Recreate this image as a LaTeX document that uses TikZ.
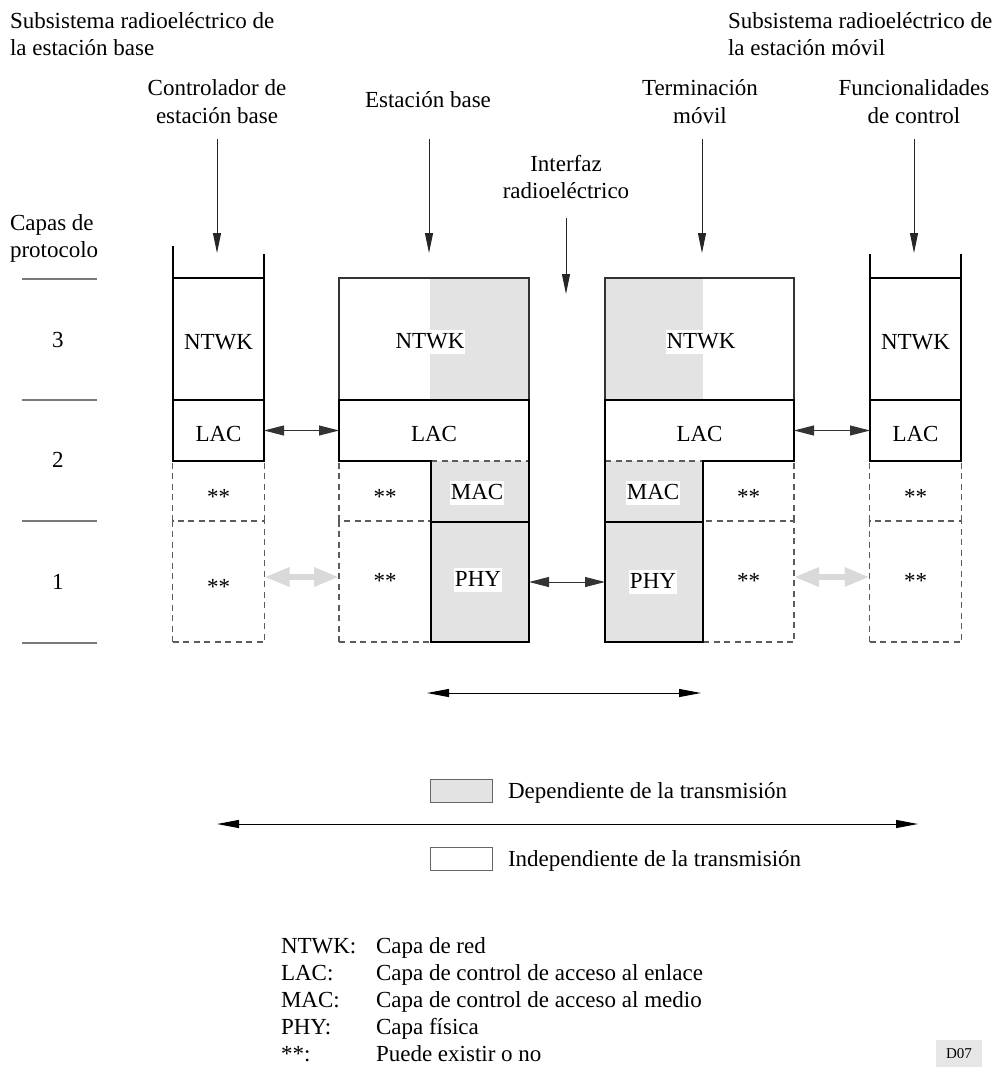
\documentclass[tikz,border=0pt]{standalone}
\usepackage{fontspec}
\setmainfont{Liberation Serif}
\usetikzlibrary{arrows.meta}
\definecolor{depgray}{HTML}{E3E3E3}
\definecolor{dashgray}{HTML}{5C5C5C}
\definecolor{rulegray}{HTML}{7A7A7A}
\definecolor{linkgray}{HTML}{D9D9D9}
\definecolor{tagbg}{HTML}{E6E6E6}

\begin{document}
\begin{tikzpicture}[x=1pt,y=-1pt,
  every node/.style={font=\fontsize{23}{27.5}\selectfont, inner sep=0pt, outer sep=0pt},
  cell/.style 2 args={minimum width=#1, minimum height=#2, text height=21pt, text depth=0pt},
  star/.style={text height=26pt, text depth=0pt},
  lowstar/.style={text height=14pt, text depth=0pt},
  entry/.style={anchor=west, text height=16pt, text depth=5pt},
  layer/.style={draw=black, line width=2pt, line cap=rect, line join=miter},
  upper/.style={draw=black!80, line width=1.2pt},
  lower/.style={draw=black, line width=1.3pt},
  maybe/.style={draw=dashgray, line width=1.2pt, dash pattern=on 6pt off 4.5pt},
  dep/.style={fill=depgray},
  tag/.style={fill=white, inner xsep=1pt, text height=18pt, text depth=6pt},
  feed/.style={draw=black!85, line width=1pt, -{Triangle[length=20pt,width=8pt]}},
  link/.style={draw=black!80, line width=1pt, {Triangle[length=20pt,width=10pt]}-{Triangle[length=20pt,width=10pt]}},
  glink/.style={draw=linkgray, line width=6pt, {Triangle[length=25pt,width=18pt]}-{Triangle[length=25pt,width=18pt]}},
  span/.style={draw=black, line width=1pt, {Triangle[length=22pt,width=8pt]}-{Triangle[length=22pt,width=8pt]}},
  key/.style={minimum width=62pt, minimum height=23pt, draw=black!60, line width=1pt},
  sep/.style={draw=rulegray, line width=1.5pt}
]
\useasboundingbox (0,0) rectangle (994,1072);

% ---------- headings ----------
\node[anchor=west, align=left] (subB) at (10,34) {Subsistema radioeléctrico de\\la estación base};
\node[anchor=west, align=left] (subM) at (728,34) {Subsistema radioeléctrico de\\la estación móvil};
\node[align=center] (hBSC) at (217,101.5) {Controlador de\\estación base};
\node (hBS) at (428,100) {Estación base};
\node[align=center] (hMT) at (700,101.5) {Terminación\\móvil};
\node[align=center] (hCF) at (914,101.5) {Funcionalidades\\de control};
\node[align=center] (hIF) at (566,177) {Interfaz\\radioeléctrico};

\coordinate (f1a) at (217,139);  \coordinate (f1b) at (217,253);
\coordinate (f2a) at (429,139);  \coordinate (f2b) at (429,253);
\coordinate (f3a) at (702,139);  \coordinate (f3b) at (702,253);
\coordinate (f4a) at (914,139);  \coordinate (f4b) at (914,253);
\coordinate (fia) at (566,218);  \coordinate (fib) at (566,294);
\draw[feed] (f1a) -- (f1b);
\draw[feed] (f2a) -- (f2b);
\draw[feed] (f3a) -- (f3b);
\draw[feed] (f4a) -- (f4b);
\draw[feed] (fia) -- (fib);

% ---------- layer scale ----------
\node[anchor=west, align=left] (capas) at (10,238.5) {Capas de\\protocolo};
\draw[sep] (22,279) -- (97,279);
\draw[sep] (22,400) -- (97,400);
\draw[sep] (22,521) -- (97,521);
\draw[sep] (22,643) -- (97,643);
\node (k3) at (58,340) {3};
\node (k2) at (58,460) {2};
\node (k1) at (58,582) {1};

% ---------- base station controller ----------
\node[cell={92pt}{121pt}, maybe, star] (p1) at (218.5,581.5) {**};
\node[cell={92pt}{60pt}, star] (m1) at (218.5,491) {**};
\draw[maybe] (m1.south west) -- (m1.north west) (m1.south east) -- (m1.north east);
\node[cell={91pt}{122pt}, layer] (n1) at (218.5,339) {NTWK};
\node[cell={91pt}{61pt}, layer] (l1) at (218.5,430.5) {LAC};
\draw[layer] (173,247) -- (n1.north west);
\draw[layer] (264,255) -- (n1.north east);

% ---------- base station ----------
\fill[depgray] (430,278) rectangle (529,400);
\node[cell={190pt}{122pt}, upper] (n2) at (434,339) {};
\node[cell={92pt}{121pt}, maybe, lowstar] (b2) at (385,581.5) {**};
\node[cell={92pt}{60pt}, star] (a2) at (385,491) {**};
\draw[maybe] (a2.south west) -- (a2.north west);
\node[cell={98pt}{61pt}, dep] (m2) at (480,491.5) {};
\node[cell={98pt}{120pt}, dep, lower] (p2) at (480,582) {};
\node[cell={190pt}{61pt}] (l2) at (434,430.5) {LAC};
\draw[maybe] (m2.north west) -- (m2.north east);
\draw[layer] (m2.north west) -- (l2.south west) -- (l2.north west) -- (l2.north east) -- (m2.south east) -- (m2.south west) -- cycle;
\node[tag] (t2n) at (430,342) {NTWK};
\node[tag] (t2m) at (477,493) {MAC};
\node[tag] (t2p) at (478,580) {PHY};

% ---------- mobile termination ----------
\fill[depgray] (605,278) rectangle (703,400);
\node[cell={189pt}{122pt}, upper] (n3) at (699.5,339) {};
\node[cell={91pt}{121pt}, maybe, lowstar] (b3) at (748.5,581.5) {**};
\node[cell={91pt}{60pt}, star] (a3) at (748.5,491) {**};
\draw[maybe] (a3.south east) -- (a3.north east);
\node[cell={98pt}{61pt}, dep] (m3) at (654,491.5) {};
\node[cell={98pt}{120pt}, dep, lower] (p3) at (654,582) {};
\node[cell={189pt}{61pt}] (l3) at (699.5,430.5) {LAC};
\draw[maybe] (m3.north west) -- (m3.north east);
\draw[layer] (m3.north east) -- (l3.south east) -- (l3.north east) -- (l3.north west) -- (m3.south west) -- (m3.south east) -- cycle;
\node[tag] (t3n) at (701,342) {NTWK};
\node[tag] (t3m) at (653,493) {MAC};
\node[tag] (t3p) at (653,582) {PHY};

% ---------- control functions ----------
\node[cell={92pt}{121pt}, maybe, lowstar] (p4) at (915.5,581.5) {**};
\node[cell={92pt}{60pt}, star] (m4) at (915.5,491) {**};
\draw[maybe] (m4.south west) -- (m4.north west) (m4.south east) -- (m4.north east);
\node[cell={91pt}{122pt}, layer] (n4) at (915.5,339) {NTWK};
\node[cell={91pt}{61pt}, layer] (l4) at (915.5,430.5) {LAC};
\draw[layer] (870,255) -- (n4.north west);
\draw[layer] (961,255) -- (n4.north east);

% ---------- peer links ----------
\draw[link] (l1.east) -- (l2.west);
\draw[link] (l3.east) -- (l4.west);
\draw[link] (p2.east) -- (p3.west);
\draw[glink] ([yshift=4.5pt]p1.east) -- ([yshift=4.5pt]b2.west);
\draw[glink] ([yshift=4.5pt]b3.east) -- ([yshift=4.5pt]p4.west);

% ---------- scope arrows and key ----------
\coordinate (s1a) at (427,693); \coordinate (s1b) at (701,693);
\coordinate (s2a) at (217,824); \coordinate (s2b) at (918,824);
\draw[span] (s1a) -- (s1b);
\draw[span] (s2a) -- (s2b);
\node[key, fill=depgray] (kd) at (461.5,790.5) {};
\node[entry] (kdt) at (508,793) {Dependiente de la transmisión};
\node[key, fill=white] (ki) at (461.5,859) {};
\node[entry] (kit) at (508,861) {Independiente de la transmisión};

% ---------- abbreviations ----------
\node[entry] (g1) at (281,948) {NTWK:};
\node[entry] (g2) at (281,975) {LAC:};
\node[entry] (g3) at (281,1002) {MAC:};
\node[entry] (g4) at (281,1029) {PHY:};
\node[entry] (g5) at (281,1056) {**:};
\node[entry] (d1) at (376,948) {Capa de red};
\node[entry] (d2) at (376,975) {Capa de control de acceso al enlace};
\node[entry] (d3) at (376,1002) {Capa de control de acceso al medio};
\node[entry] (d4) at (376,1029) {Capa física};
\node[entry] (d5) at (376,1056) {Puede existir o no};

\node[fill=tagbg, minimum width=46pt, minimum height=27pt, font=\fontsize{15}{18}\selectfont] (code) at (959,1053.5) {D07};
\end{tikzpicture}
\end{document}
